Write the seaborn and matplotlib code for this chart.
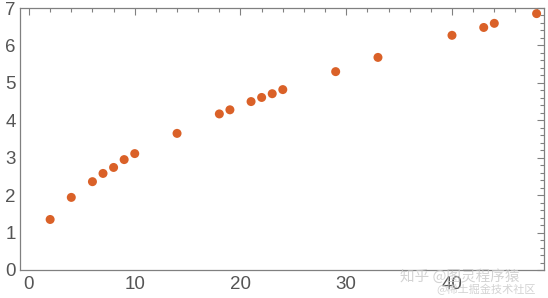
import matplotlib
matplotlib.use("Agg")
import matplotlib.pyplot as plt
import seaborn as sns
import pandas as pd
from matplotlib.ticker import MultipleLocator

x_vals = [2, 4, 6, 7, 8, 9, 10, 14, 18, 19, 21, 22, 23, 24, 29, 33, 40, 43, 44, 48]
y_vals = [1.35, 1.94, 2.36, 2.58, 2.74, 2.95, 3.11, 3.65, 4.17, 4.28, 4.50, 4.61,
          4.71, 4.82, 5.30, 5.68, 6.27, 6.48, 6.59, 6.85]
x_ticks = [0, 10, 20, 30, 40]
y_ticks = [0, 1, 2, 3, 4, 5, 6, 7]

df = pd.DataFrame({"x": x_vals, "y": y_vals})

sns.set_style("white")
plt.rcParams['font.family'] = ['Liberation Sans', 'DejaVu Sans']

fig = plt.figure(figsize=(5.48, 2.98), dpi=100)
ax = fig.add_axes([20/548, 28/298, 524/548, 262/298])

sns.scatterplot(data=df, x="x", y="y", ax=ax, color="#DA6128", s=42,
                edgecolor="none", linewidth=0)

ax.set_xlim(-0.85, 48.7)
ax.set_ylim(0, 7)
ax.set_xticks(x_ticks)
ax.set_yticks(y_ticks)
ax.xaxis.set_minor_locator(MultipleLocator(2))
ax.yaxis.set_minor_locator(MultipleLocator(0.2))
ax.set_xlabel("")
ax.set_ylabel("")

frame_col = "#808080"
for sp in ax.spines.values():
    sp.set_color(frame_col)
    sp.set_linewidth(0.9)

ax.tick_params(axis="both", which="both", direction="in", top=True, right=True,
               color=frame_col, width=0.8)
ax.tick_params(axis="both", which="major", length=5, labelsize=13.5,
               labelcolor="#555555")
ax.tick_params(axis="both", which="minor", length=2.8)
ax.tick_params(axis="x", which="both", top=True, labeltop=False)
ax.tick_params(axis="y", which="both", right=True, labelright=False, pad=3)
ax.tick_params(axis="x", which="major", pad=4)

wm_font = ["Noto Sans CJK SC", "DejaVu Sans"]
fig.text(400/548, 1 - 281/298, "知乎 @图灵程序猿", fontsize=10.5, color="#c8c8c8",
         alpha=0.8, family=wm_font)
fig.text(436/548, 1 - 293/298, "@稀土掘金技术社区", fontsize=8, color="#c8c8c8",
         alpha=0.8, family=wm_font)

fig.savefig("out.png", dpi=100)
